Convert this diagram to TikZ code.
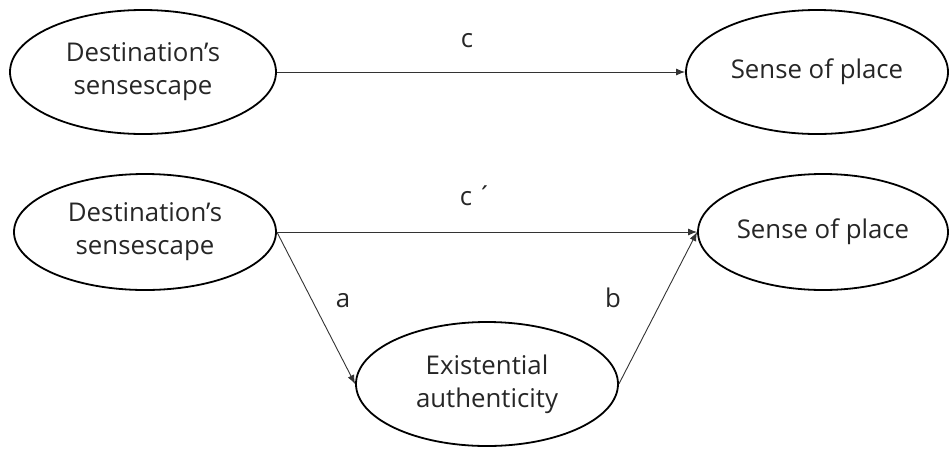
\documentclass[tikz,border=0pt]{standalone}
\usepackage{fontspec}
\setmainfont{Open Sans}
\usetikzlibrary{shapes.geometric,arrows.meta}
\tikzset{
  oval/.style={ellipse, draw=black, line width=1.8pt, inner sep=0pt, align=center,
    font=\fontsize{25.8}{33}\selectfont, text=black!85},
  conn/.style={draw=black!80, line width=0.9pt, -{Latex[length=9pt,width=7pt]}},
  lbl/.style={anchor=base, font=\fontsize{25.8}{33}\selectfont, text=black!85, inner sep=0pt}
}
\begin{document}
\begin{tikzpicture}[x=1pt,y=-1pt]
\useasboundingbox (0,0) rectangle (951,448);
\node[oval, minimum width=266pt, minimum height=124pt] (tl) at (143,72) {Destination’s\\sensescape};
\node[oval, minimum width=262pt, minimum height=124pt] (tr) at (817,72) {Sense of place};
\node[oval, minimum width=262pt, minimum height=116pt] (ml) at (145,232) {Destination’s\\sensescape};
\node[oval, minimum width=250pt, minimum height=116pt] (mr) at (823,232) {Sense of place};
\node[oval, minimum width=262pt, minimum height=124pt] (be) at (487,384) {Existential\\authenticity};
\draw[conn] (tl.east) -- (tr.west);
\draw[conn] (ml.east) -- (mr.west);
\draw[conn] (ml.east) -- (be.west);
\draw[conn] (be.east) -- (mr.west);
\node[lbl] (lc) at (467,47) {c};
\node[lbl] (lcp) at (476,205) {c\hspace{5pt}´};
\node[lbl] (la) at (343,307) {a};
\node[lbl] (lb) at (613,307) {b};
\end{tikzpicture}
\end{document}
